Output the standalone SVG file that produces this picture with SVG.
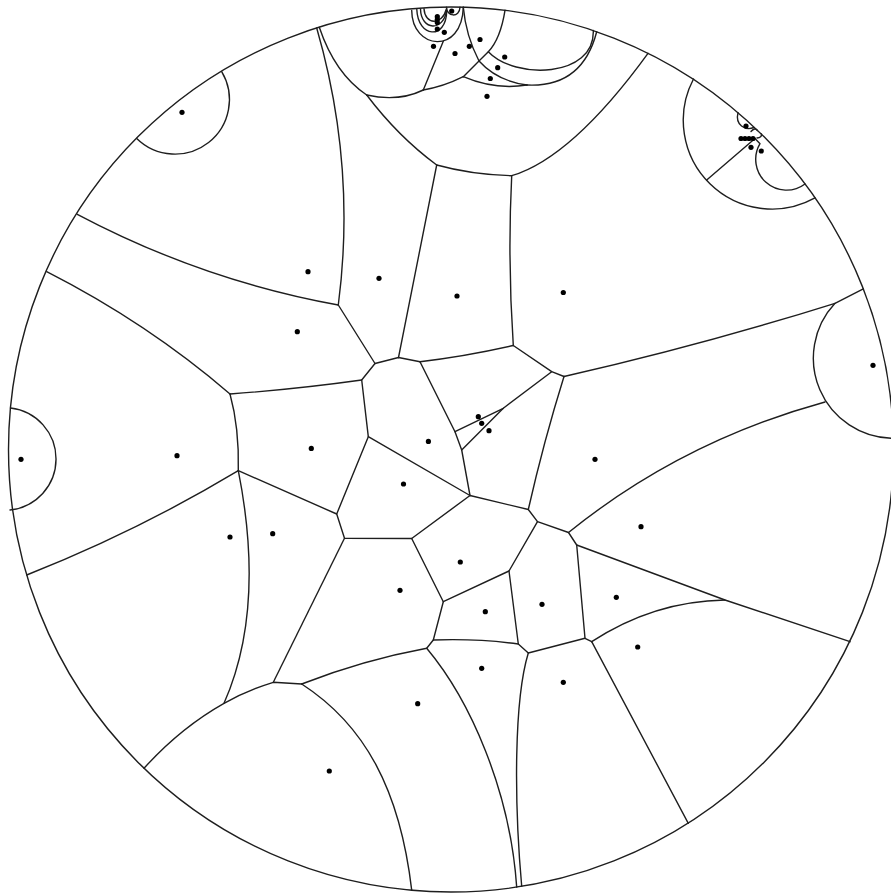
<svg xmlns="http://www.w3.org/2000/svg" width="891" height="894" viewBox="0 0 891 894">
<style>
.e{fill:none;stroke:#1e1e1e;stroke-width:1.4;stroke-linejoin:round;stroke-linecap:round}
.b{fill:none;stroke:#1e1e1e;stroke-width:1.4}
.s{fill:#000}
</style>
<rect width="891" height="894" fill="#fff"/>
<circle id="disk" class="b" cx="451" cy="449.5" r="442.5"/>
<g id="edges">
<path class="e" d="M77.3,214.3 Q202.2,280.4 338.3,305"/>
<path class="e" d="M316.7,28 Q356.5,165.5 338.3,305"/>
<path class="e" d="M319.3,27.3 Q335,74 366.7,95"/>
<path class="e" d="M366.7,95 Q398.3,136.7 436.7,165"/>
<path class="e" d="M436.7,165 Q471.8,174.7 511.7,175.7"/>
<path class="e" d="M511.7,175.7 Q572.2,157.5 648,53.3"/>
<path class="e" d="M366.7,95 Q398.4,102.1 423.3,90"/>
<path class="e" d="M423.3,90 L443.3,41.2"/>
<path class="e" d="M411.7,10.5 C412,50 462,55 463.3,7.3"/>
<path class="e" d="M423.3,90 Q443.3,86.7 463.3,76.7"/>
<path class="e" d="M463.3,76.7 L479,61 L488.3,51.7 Q500.4,39 505,10.3"/>
<path class="e" d="M463.3,7.3 Q465.9,35.9 479,61 Q497,81 527,85"/>
<path class="e" d="M488.3,51.7 C515,80 595,78 593.3,30.4"/>
<path class="e" d="M463.3,76.7 Q494.9,90.2 527,85"/>
<path class="e" d="M527,85 Q582.2,87.7 596.7,31.7"/>
<path class="e" d="M446.5,7.2 C446.5,17 459.5,18 460,7.2"/>
<path class="e" d="M416.8,9.5 C418,38 446,40 446.7,11.5"/>
<path class="e" d="M420.5,9 C421,31 444,32 446.6,9.8"/>
<path class="e" d="M424,8.7 C425,25 442,26 446.5,8.8"/>
<path class="e" d="M436.7,165 Q415.9,272 398.5,357.5"/>
<path class="e" d="M511.7,175.7 Q507.5,259.7 513.3,345.5"/>
<path class="e" d="M338.3,305 L375,363.5 L398.5,357.5 L420,361.7"/>
<path class="e" d="M420,361.7 Q465.4,356.4 513.3,345.5"/>
<path class="e" d="M513.3,345.5 L551.7,371.7 L564,376.5"/>
<path class="e" d="M564,376.5 Q700.5,345.5 835,303.3 L863.3,288.8"/>
<path class="e" d="M835,303.3 A80.2,80.2 0 0,0 893,438.3"/>
<path class="e" d="M825,402 Q681.4,441.4 568.5,532.5"/>
<path class="e" d="M564,376.5 Q543.9,440.8 528.3,509.5"/>
<path class="e" d="M551.7,371.7 L503.3,408.3 L455,431.7"/>
<path class="e" d="M503.3,408.3 L461.7,450"/>
<path class="e" d="M420,361.7 L455,431.7 L461.7,450 L470,495.5"/>
<path class="e" d="M375,363.5 L361.7,380 L368.3,436.7 L470,495.5"/>
<path class="e" d="M361.7,380 Q297.6,389 230,394"/>
<path class="e" d="M230,394 Q147.7,323.2 46.7,271.7"/>
<path class="e" d="M368.3,436.7 L336.7,514"/>
<path class="e" d="M230,394 Q239.3,427.7 238.3,470.7"/>
<path class="e" d="M238.3,470.7 Q137.5,531.2 26.7,575"/>
<path class="e" d="M10.5,408 A51.3,51.3 0 0,1 10,510"/>
<path class="e" d="M221.7,71.7 A54.5,54.5 0 0,1 136.7,138.5"/>
<path class="e" d="M238.3,470.7 L336.7,514 L344.5,538.3 L411.7,538.5"/>
<path class="e" d="M344.5,538.3 L273.3,682.3"/>
<path class="e" d="M238.3,470.7 C256,560 252,640 224,703.3"/>
<path class="e" d="M144,768.3 Q180,728.2 224,703.3 Q247.4,690.2 273.3,682.3 L301.7,684"/>
<path class="e" d="M301.7,684 C365,725 400,790 411.7,890.2"/>
<path class="e" d="M301.7,684 Q363.8,659.9 426.7,648.3 L433.3,640 L443.3,601.7 L411.7,538.5 L470,495.5 L528.3,509.5 L537.5,521.7 L568.5,532.5 L576.7,545 L585,638.3 L591.7,641.7"/>
<path class="e" d="M443.3,601.7 L509,571 L537.5,521.7"/>
<path class="e" d="M509,571 L518.3,644 L528.3,653 L585,638.3"/>
<path class="e" d="M518.3,644 Q477.6,638.4 433.3,640"/>
<path class="e" d="M576.7,545 L725,600 L850,641.7"/>
<path class="e" d="M591.7,641.7 Q653.7,601.2 725,600"/>
<path class="e" d="M591.7,641.7 L688.3,823.3"/>
<path class="e" d="M528.3,653 C514,700 514,800 521.7,886.3"/>
<path class="e" d="M426.7,648.3 C470,700 510,790 516.7,887.1"/>
<path class="e" d="M693.5,79 A88.7,88.7 0 0,0 815,197.9"/>
<path class="e" d="M706.7,180 L755,138.5"/>
<path class="e" d="M755,138.5 L760,143.7 A30.8,30.8 0 0,0 805,184"/>
<path class="e" d="M738,112.7 C735,125 745,131 754,127.5"/>
<path class="e" d="M751,131.5 Q755,127 757.5,130.5"/>
<path class="e" d="M757,138 Q762,137.5 761.5,134"/>
</g>
<g id="sites">
<g id="n1"><circle class="s" cx="182" cy="112.3" r="2.6"/></g>
<g id="n2"><circle class="s" cx="308" cy="271.7" r="2.6"/></g>
<g id="n3"><circle class="s" cx="379" cy="278.3" r="2.6"/></g>
<g id="n4"><circle class="s" cx="457" cy="296" r="2.6"/></g>
<g id="n5"><circle class="s" cx="563.3" cy="292.5" r="2.6"/></g>
<g id="n6"><circle class="s" cx="297.3" cy="331.7" r="2.6"/></g>
<g id="n7"><circle class="s" cx="873" cy="365.3" r="2.6"/></g>
<g id="n8"><circle class="s" cx="21" cy="459.3" r="2.6"/></g>
<g id="n9"><circle class="s" cx="177" cy="455.7" r="2.6"/></g>
<g id="n10"><circle class="s" cx="311.3" cy="448.4" r="2.6"/></g>
<g id="n11"><circle class="s" cx="428.4" cy="441.4" r="2.6"/></g>
<g id="n12"><circle class="s" cx="478.3" cy="416.7" r="2.6"/></g>
<g id="n13"><circle class="s" cx="481.7" cy="423.3" r="2.6"/></g>
<g id="n14"><circle class="s" cx="489" cy="430.7" r="2.6"/></g>
<g id="n15"><circle class="s" cx="403.5" cy="484" r="2.6"/></g>
<g id="n16"><circle class="s" cx="595" cy="459.3" r="2.6"/></g>
<g id="n17"><circle class="s" cx="641" cy="526.7" r="2.6"/></g>
<g id="n18"><circle class="s" cx="230" cy="537" r="2.6"/></g>
<g id="n19"><circle class="s" cx="272.7" cy="533.7" r="2.6"/></g>
<g id="n20"><circle class="s" cx="460.3" cy="562" r="2.6"/></g>
<g id="n21"><circle class="s" cx="400" cy="590.3" r="2.6"/></g>
<g id="n22"><circle class="s" cx="485.3" cy="611.7" r="2.6"/></g>
<g id="n23"><circle class="s" cx="542" cy="604.3" r="2.6"/></g>
<g id="n24"><circle class="s" cx="616.3" cy="597.3" r="2.6"/></g>
<g id="n25"><circle class="s" cx="637.7" cy="647" r="2.6"/></g>
<g id="n26"><circle class="s" cx="481.7" cy="668.3" r="2.6"/></g>
<g id="n27"><circle class="s" cx="563.3" cy="682.3" r="2.6"/></g>
<g id="n28"><circle class="s" cx="417.7" cy="703.7" r="2.6"/></g>
<g id="n29"><circle class="s" cx="329.3" cy="771" r="2.6"/></g>
<g id="n30"><circle class="s" cx="451.7" cy="11" r="2.6"/></g>
<g id="n31"><circle class="s" cx="437.3" cy="16.7" r="2.6"/></g>
<g id="n32"><circle class="s" cx="437.3" cy="19.6" r="2.6"/></g>
<g id="n33"><circle class="s" cx="437.3" cy="22.5" r="2.6"/></g>
<g id="n34"><circle class="s" cx="437.3" cy="29" r="2.6"/></g>
<g id="n35"><circle class="s" cx="444.3" cy="32.3" r="2.6"/></g>
<g id="n36"><circle class="s" cx="433.5" cy="46.3" r="2.6"/></g>
<g id="n37"><circle class="s" cx="455" cy="53.5" r="2.6"/></g>
<g id="n38"><circle class="s" cx="469.3" cy="46.3" r="2.6"/></g>
<g id="n39"><circle class="s" cx="480" cy="39.5" r="2.6"/></g>
<g id="n40"><circle class="s" cx="504.7" cy="57" r="2.6"/></g>
<g id="n41"><circle class="s" cx="497.7" cy="67.7" r="2.6"/></g>
<g id="n42"><circle class="s" cx="490.3" cy="78.5" r="2.6"/></g>
<g id="n43"><circle class="s" cx="487" cy="96.3" r="2.6"/></g>
<g id="n44"><circle class="s" cx="746" cy="126" r="2.6"/></g>
<g id="n45"><circle class="s" cx="741" cy="138.5" r="2.6"/></g>
<g id="n46"><circle class="s" cx="745" cy="138.5" r="2.6"/></g>
<g id="n47"><circle class="s" cx="749" cy="138.5" r="2.6"/></g>
<g id="n48"><circle class="s" cx="753" cy="138.5" r="2.6"/></g>
<g id="n49"><circle class="s" cx="751" cy="147.3" r="2.6"/></g>
<g id="n50"><circle class="s" cx="761.3" cy="151" r="2.6"/></g>
</g>
</svg>
